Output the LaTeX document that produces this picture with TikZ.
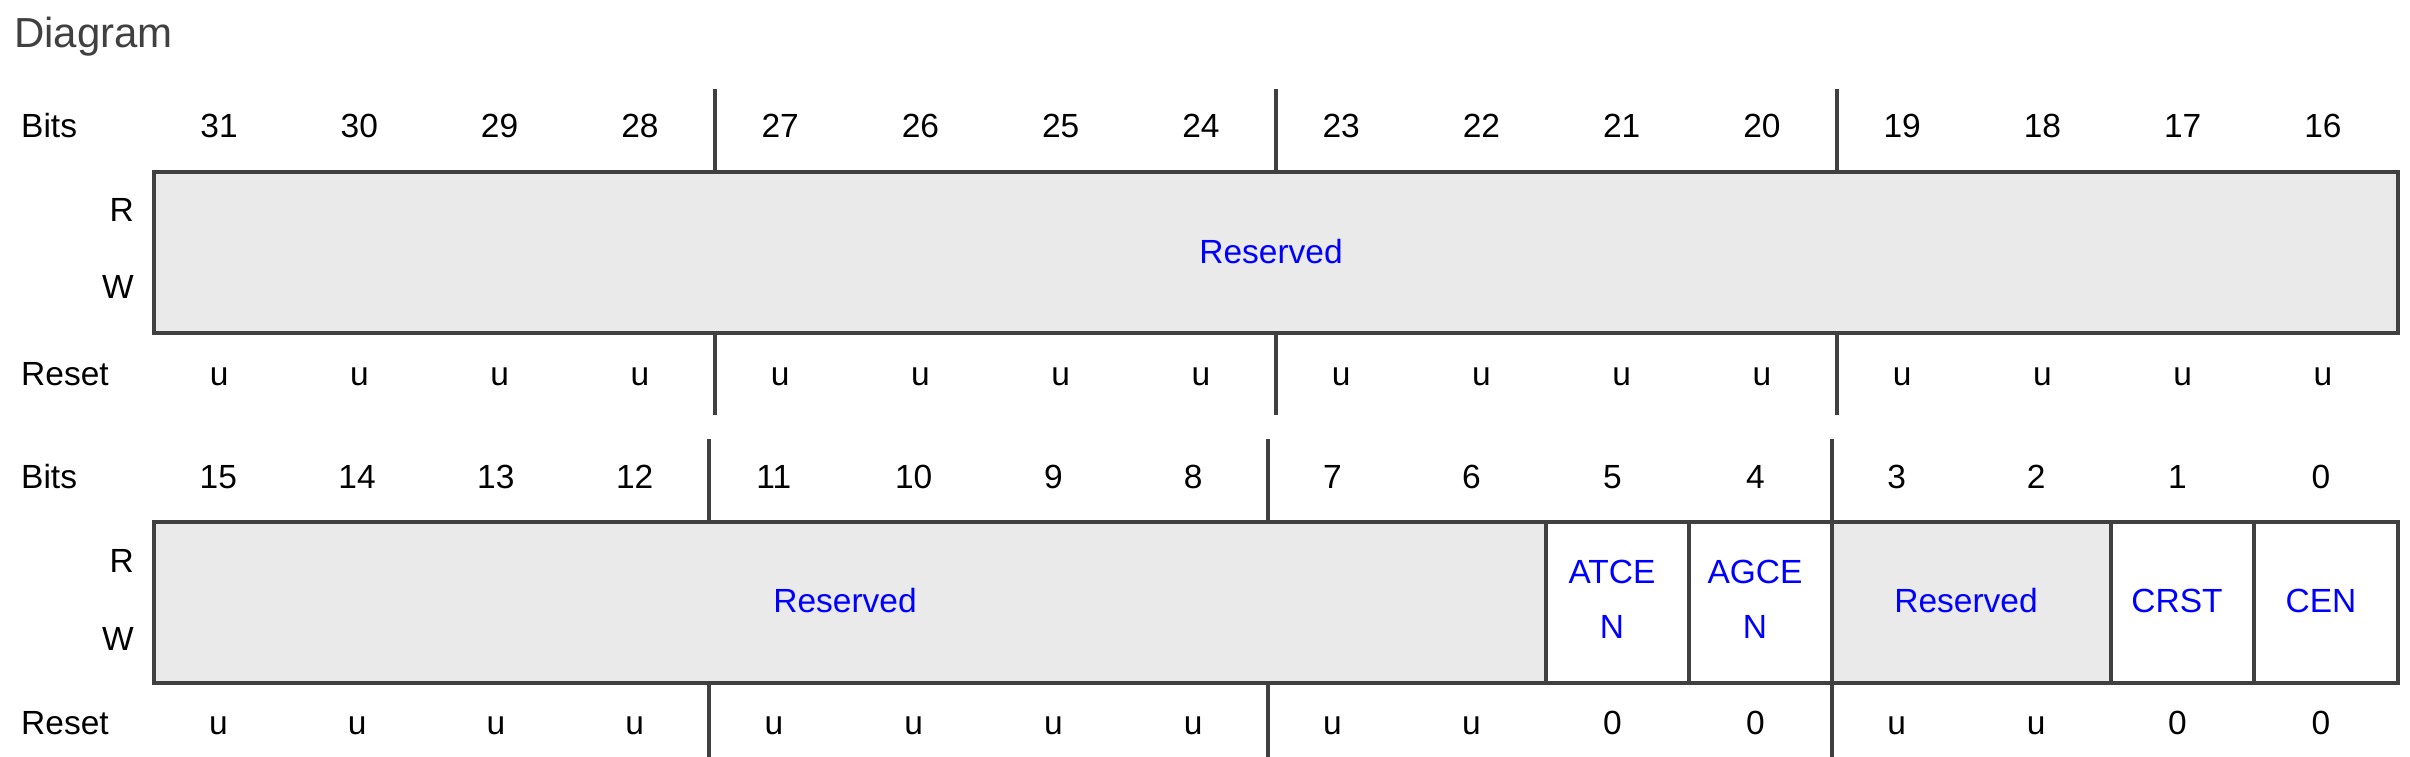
\documentclass[tikz,border=0pt]{standalone}
\usepackage{fontspec}
\setmainfont{Liberation Sans}
\definecolor{edge}{HTML}{404040}
\definecolor{resgray}{HTML}{EAEAEA}
\definecolor{fieldblue}{HTML}{0000FF}
\definecolor{titlegray}{HTML}{404040}
\begin{document}
\begin{tikzpicture}[x=1pt,y=-1pt,
  lbl/.style={anchor=base, inner sep=0pt, font=\fontsize{33.5}{40}\selectfont},
  rowlbl/.style={anchor=base west, inner sep=0pt, font=\fontsize{33.5}{40}\selectfont},
  rwlbl/.style={anchor=base east, inner sep=0pt, font=\fontsize{33.5}{40}\selectfont},
  fld/.style={anchor=base, inner sep=0pt, text=fieldblue, font=\fontsize{33.5}{40}\selectfont},
  fld2/.style={anchor=center, inner sep=0pt, text=fieldblue, align=center, font=\fontsize{33.5}{55}\selectfont},
  frame/.style={draw=edge, line width=4.5pt},
  cellline/.style={draw=edge, line width=4.2pt},
  divider/.style={draw=edge, line width=4pt},
  resv/.style={fill=resgray},
]
\useasboundingbox (0,0) rectangle (2410,757);

% title
\node[anchor=base west, inner sep=0pt, text=titlegray, font=\fontsize{42}{50}\selectfont] (title) at (14,48) {Diagram};

% ---------------- upper register (bits 31..16)
\node[rowlbl] (bitsA) at (21,138) {Bits};
\node[rowlbl] (resetA) at (21,385) {Reset};
\node[rwlbl] (rA) at (134,221) {R};
\node[rwlbl] (wA) at (134,298) {W};
\foreach \i in {0,...,15} {
  \pgfmathsetmacro\cx{154+140.25*(\i+0.5)-5}
  \pgfmathtruncatemacro\bit{31-\i}
  \node[lbl] (tb\i) at (\cx,138) {\bit};
  \node[lbl] (tr\i) at (\cx,385) {u};
}
\path[resv] (154,172) rectangle (2398,333);
\draw[frame] (154,172) rectangle (2398,333);
\node[fld] (resA) at (1271,263) {Reserved};
\foreach \x in {715,1276,1837} {
  \draw[divider] (\x,89) -- (\x,172);
  \draw[divider] (\x,333) -- (\x,415);
}

% ---------------- lower register (bits 15..0)
\node[rowlbl] (bitsB) at (21,488) {Bits};
\node[rowlbl] (resetB) at (21,734) {Reset};
\node[rwlbl] (rB) at (134,572) {R};
\node[rwlbl] (wB) at (134,650) {W};
\foreach \l/\r/\b/\v in {154/292.75/15/u, 292.75/431.5/14/u, 431.5/570.25/13/u, 570.25/709/12/u,
  709/848.75/11/u, 848.75/988.5/10/u, 988.5/1128.25/9/u, 1128.25/1268/8/u,
  1268/1407/7/u, 1407/1546/6/u, 1546/1689/5/0, 1689/1832/4/0,
  1832/1971.5/3/u, 1971.5/2111/2/u, 2111/2254/1/0, 2254/2398/0/0} {
  \pgfmathsetmacro\cx{(\l+\r)/2-5}
  \node[lbl] (bb\b) at (\cx,488) {\b};
  \node[lbl] (br\b) at (\cx,734) {\v};
}
\path[resv] (154,522) rectangle (1546,683);
\path[resv] (1832,522) rectangle (2111,683);
\foreach \x in {1546,1689,1832,2111,2254} {
  \draw[cellline] (\x,522) -- (\x,683);
}
\draw[frame] (154,522) rectangle (2398,683);
\node[fld] (resB) at (845,612) {Reserved};
\node[fld2] (atcen) at (1612,599) {ATCE\\N};
\node[fld2] (agcen) at (1755,599) {AGCE\\N};
\node[fld] (resC) at (1966,612) {Reserved};
\node[fld] (crst) at (2177,612) {CRST};
\node[fld] (cen) at (2321,612) {CEN};
\foreach \x in {709,1268,1832} {
  \draw[divider] (\x,439) -- (\x,522);
  \draw[divider] (\x,683) -- (\x,757);
}
\end{tikzpicture}
\end{document}
